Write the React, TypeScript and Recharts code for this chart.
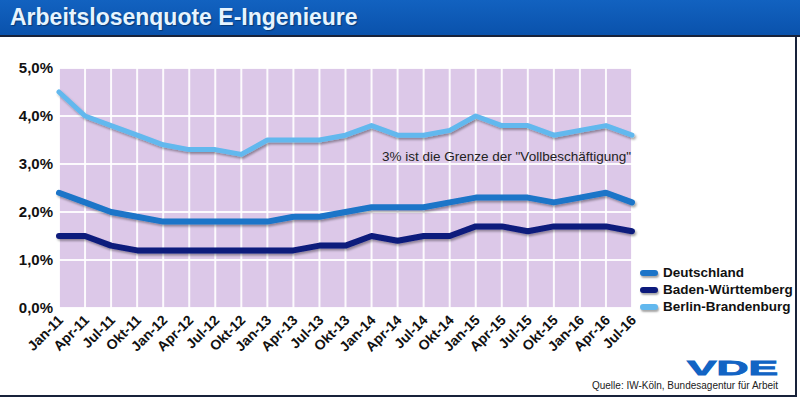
import { LineChart, Line, XAxis, YAxis, CartesianGrid, ReferenceLine } from 'recharts';

const months = [
  'Jan-11', 'Apr-11', 'Jul-11', 'Okt-11', 'Jan-12', 'Apr-12', 'Jul-12', 'Okt-12',
  'Jan-13', 'Apr-13', 'Jul-13', 'Okt-13', 'Jan-14', 'Apr-14', 'Jul-14', 'Okt-14',
  'Jan-15', 'Apr-15', 'Jul-15', 'Okt-15', 'Jan-16', 'Apr-16', 'Jul-16',
];

const deutschland = [
  2.4, 2.2, 2.0, 1.9, 1.8, 1.8, 1.8, 1.8, 1.8, 1.9, 1.9, 2.0,
  2.1, 2.1, 2.1, 2.2, 2.3, 2.3, 2.3, 2.2, 2.3, 2.4, 2.2,
];
const badenWuerttemberg = [
  1.5, 1.5, 1.3, 1.2, 1.2, 1.2, 1.2, 1.2, 1.2, 1.2, 1.3, 1.3,
  1.5, 1.4, 1.5, 1.5, 1.7, 1.7, 1.6, 1.7, 1.7, 1.7, 1.6,
];
const berlinBrandenburg = [
  4.5, 4.0, 3.8, 3.6, 3.4, 3.3, 3.3, 3.2, 3.5, 3.5, 3.5, 3.6,
  3.8, 3.6, 3.6, 3.7, 4.0, 3.8, 3.8, 3.6, 3.7, 3.8, 3.6,
];

const yTicks = [0, 1, 2, 3, 4, 5];

const series = [
  { key: 'de', name: 'Deutschland', color: '#1b74c8', width: 6 },
  { key: 'bw', name: 'Baden-Württemberg', color: '#0c1a7c', width: 6 },
  { key: 'bb', name: 'Berlin-Brandenburg', color: '#62b8ee', width: 5 },
];

const data = months.map((m, i) => ({
  month: m,
  de: deutschland[i],
  bw: badenWuerttemberg[i],
  bb: berlinBrandenburg[i],
}));

const font = 'Arial, "Liberation Sans", sans-serif';

const fmtPct = (v: number) => `${v.toFixed(1).replace('.', ',')}%`;

function MonthTick(props: any) {
  const { x, y, payload } = props;
  const tx = x + 5;
  const ty = y + 13;
  return (
    <text
      x={tx}
      y={ty}
      transform={`rotate(-45, ${tx}, ${ty})`}
      textAnchor="end"
      fontFamily={font}
      fontWeight="bold"
      fontSize={14}
      fill="#111"
    >
      {payload.value}
    </text>
  );
}

function NoteLabel(props: any) {
  const vb = props.viewBox || {};
  return (
    <text
      x={vb.x + vb.width - 1}
      y={vb.y - 3}
      textAnchor="end"
      fontFamily={font}
      fontSize={13.5}
      fill="#222"
    >
      3% ist die Grenze der "Vollbeschäftigung"
    </text>
  );
}

export default function App() {
  return (
    <div
      style={{
        position: 'absolute',
        left: 0,
        top: 0,
        width: 800,
        height: 398,
        background: '#fff',
        overflow: 'hidden',
        fontFamily: font,
      }}
    >
      <svg width={0} height={0} style={{ position: 'absolute' }}>
        <defs>
          <filter id="shadow" x="-5%" y="-50%" width="110%" height="200%">
            <feDropShadow dx={1.5} dy={2} stdDeviation={1.2} floodColor="#000" floodOpacity={0.35} />
          </filter>
        </defs>
      </svg>

      <div
        style={{
          position: 'absolute',
          left: 0,
          top: 0,
          width: 800,
          height: 35,
          background: 'linear-gradient(#1262c0, #0a52ac)',
          borderBottom: '2px solid #18223a',
        }}
      >
        <div
          style={{
            position: 'absolute',
            left: 10,
            top: 4,
            fontSize: 23,
            fontWeight: 'bold',
            color: '#e6f4ff',
            textShadow: '1px 1px 1px rgba(0,0,0,0.35)',
            whiteSpace: 'nowrap',
          }}
        >
          Arbeitslosenquote E-Ingenieure
        </div>
      </div>

      <div style={{ position: 'absolute', left: 795, top: 37, width: 2, height: 360, background: '#18223a' }} />
      <div style={{ position: 'absolute', left: 0, top: 395, width: 797, height: 2, background: '#18223a' }} />

      <div style={{ position: 'absolute', left: 0, top: 0 }}>
        <LineChart width={800} height={398} data={data} margin={{ top: 68, right: 168, bottom: 0, left: 0 }}>
          <CartesianGrid fill="#dcc8e8" stroke="#ffffff" strokeWidth={2} strokeOpacity={0.9} />
          <XAxis
            dataKey="month"
            interval={0}
            axisLine={false}
            tickLine={false}
            tickSize={0}
            tickMargin={0}
            tick={<MonthTick />}
            height={90}
          />
          <YAxis
            domain={[0, 5]}
            ticks={yTicks}
            width={59}
            axisLine={false}
            tickLine={false}
            tickSize={0}
            tickMargin={6}
            tickFormatter={fmtPct}
            tick={{ fontFamily: font, fontWeight: 'bold', fontSize: 15, fill: '#111' }}
          />
          <ReferenceLine y={3} stroke="none" label={<NoteLabel />} />
          {series.map((s) => (
            <Line
              key={s.key}
              dataKey={s.key}
              name={s.name}
              stroke={s.color}
              strokeWidth={s.width}
              strokeLinecap="round"
              strokeLinejoin="round"
              dot={false}
              activeDot={false}
              filter="url(#shadow)"
              isAnimationActive={false}
            />
          ))}
        </LineChart>
      </div>

      <div style={{ position: 'absolute', left: 640, top: 264 }}>
        {series.map((s) => (
          <div key={s.key} style={{ display: 'flex', alignItems: 'center', height: 17 }}>
            <div
              style={{
                width: 18,
                height: 6,
                borderRadius: 3,
                background: s.color,
                boxShadow: '1px 2px 2px rgba(0,0,0,0.35)',
                marginRight: 5,
              }}
            />
            <span style={{ fontSize: 13.5, fontWeight: 'bold', color: '#111', whiteSpace: 'nowrap' }}>{s.name}</span>
          </div>
        ))}
      </div>

      <svg width={800} height={398} style={{ position: 'absolute', left: 0, top: 0, pointerEvents: 'none' }}>
        <text
          x={687}
          y={375}
          textLength={91}
          lengthAdjust="spacingAndGlyphs"
          fontFamily={font}
          fontWeight={900}
          fontSize={20}
          fill="#1264c4"
          stroke="#1264c4"
          strokeWidth={0.8}
        >
          VDE
        </text>
        <text x={778} y={389} textAnchor="end" fontFamily={font} fontSize={10} fill="#222">
          Quelle: IW-Köln, Bundesagentur für Arbeit
        </text>
      </svg>
    </div>
  );
}
